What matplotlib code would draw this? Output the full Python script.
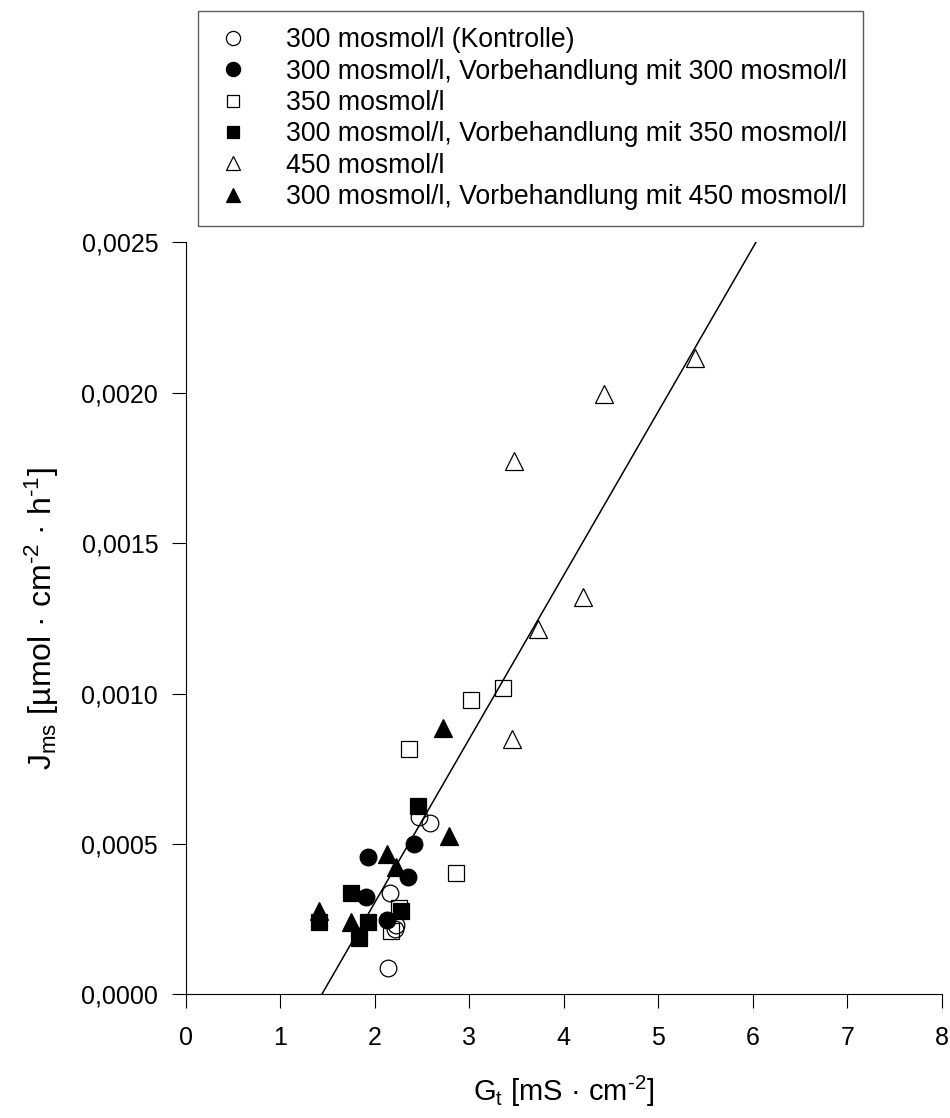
import matplotlib
matplotlib.use("Agg")
import matplotlib.pyplot as plt
from matplotlib.ticker import FuncFormatter
import numpy as np

plt.rcParams["font.family"] = ["Liberation Sans", "DejaVu Sans"]
plt.rcParams["mathtext.default"] = "regular"

# G_t [mS/cm^2] vs. J_ms [umol/(cm^2 h)]
kontrolle_x = [2.47, 2.58, 2.16, 2.22, 2.21, 2.14]
kontrolle_y = [0.000590, 0.000570, 0.000336, 0.000230, 0.000217, 0.000088]

vb300_x = [2.41, 1.93, 2.35, 1.91, 2.13]
vb300_y = [0.000500, 0.000457, 0.000391, 0.000324, 0.000247]

m350_x = [3.36, 3.02, 2.36, 2.86, 2.25, 2.17]
m350_y = [0.001020, 0.000978, 0.000815, 0.000404, 0.000286, 0.000211]

vb350_x = [2.46, 1.75, 1.41, 1.93, 1.83, 2.28]
vb350_y = [0.000626, 0.000338, 0.000241, 0.000241, 0.000188, 0.000277]

m450_x = [5.39, 4.43, 3.47, 4.20, 3.73, 3.45]
m450_y = [0.002114, 0.001997, 0.001774, 0.001321, 0.001213, 0.000849]

vb450_x = [2.72, 2.78, 2.13, 2.22, 1.75, 1.41]
vb450_y = [0.000886, 0.000526, 0.000466, 0.000422, 0.000241, 0.000278]

# Regressionsgerade
fit_slope = 0.000544
fit_intercept = -0.000782

labels = [
    "300 mosmol/l (Kontrolle)",
    "300 mosmol/l, Vorbehandlung mit 300 mosmol/l",
    "350 mosmol/l",
    "300 mosmol/l, Vorbehandlung mit 350 mosmol/l",
    "450 mosmol/l",
    "300 mosmol/l, Vorbehandlung mit 450 mosmol/l",
]

x_max = 8
y_max = 0.0025

fig = plt.figure(figsize=(9.5, 11.18), dpi=100)
ax = fig.add_axes([0.1958, 0.1106, 0.7955, 0.6727])

series = [
    (kontrolle_x, kontrolle_y, "o", "none"),
    (vb300_x, vb300_y, "o", "black"),
    (m350_x, m350_y, "s", "none"),
    (vb350_x, vb350_y, "s", "black"),
    (m450_x, m450_y, "^", "none"),
    (vb450_x, vb450_y, "^", "black"),
]
sizes = {"o": 12, "s": 11, "^": 12.5}

# Gerade von y=0 bis zum oberen Achsenende
x0 = -fit_intercept / fit_slope
x1 = (y_max - fit_intercept) / fit_slope
xs = np.array([x0, x1])
ax.plot(xs, fit_slope * xs + fit_intercept, color="black", lw=1.1, zorder=2)

handles = []
for (xv, yv, mk, fc), lab in zip(series, labels):
    h, = ax.plot(xv, yv, linestyle="none", marker=mk, markersize=sizes[mk],
                 markerfacecolor=fc, markeredgecolor="black",
                 markeredgewidth=0.9, label=lab, zorder=3)
    handles.append(h)

ax.set_xlim(0, x_max)
ax.set_ylim(0, y_max)
ax.set_xticks(range(0, 9))
ax.set_yticks(np.arange(0, 0.0026, 0.0005))
ax.yaxis.set_major_formatter(FuncFormatter(lambda v, p: f"{v:.4f}".replace(".", ",")))

for side in ("top", "right"):
    ax.spines[side].set_visible(False)
for side in ("left", "bottom"):
    ax.spines[side].set_linewidth(0.8)
ax.tick_params(axis="both", direction="out", length=10, width=0.8, labelsize=18)
ax.tick_params(axis="x", pad=13)
ax.tick_params(axis="y", pad=10)

hy = "\u2010"
ax.set_xlabel(f"G$_t$ [mS · cm$^{{{hy}2}}$]", fontsize=21, labelpad=17)
ax.set_ylabel(f"J$_{{ms}}$ [µmol · cm$^{{{hy}2}}$ · h$^{{{hy}1}}$]", fontsize=23, labelpad=15)

leg = fig.legend(handles=handles, loc="upper left",
                 bbox_to_anchor=(0.208, 0.990), bbox_transform=fig.transFigure,
                 fontsize=19.2, frameon=True, fancybox=False, borderaxespad=0,
                 markerscale=0.85, handlelength=1.46, handletextpad=1.24,
                 borderpad=0.6, labelspacing=0.2)
leg.get_frame().set_edgecolor("#333333")
leg.get_frame().set_linewidth(1.0)

fig.savefig("out.png", dpi=100)
